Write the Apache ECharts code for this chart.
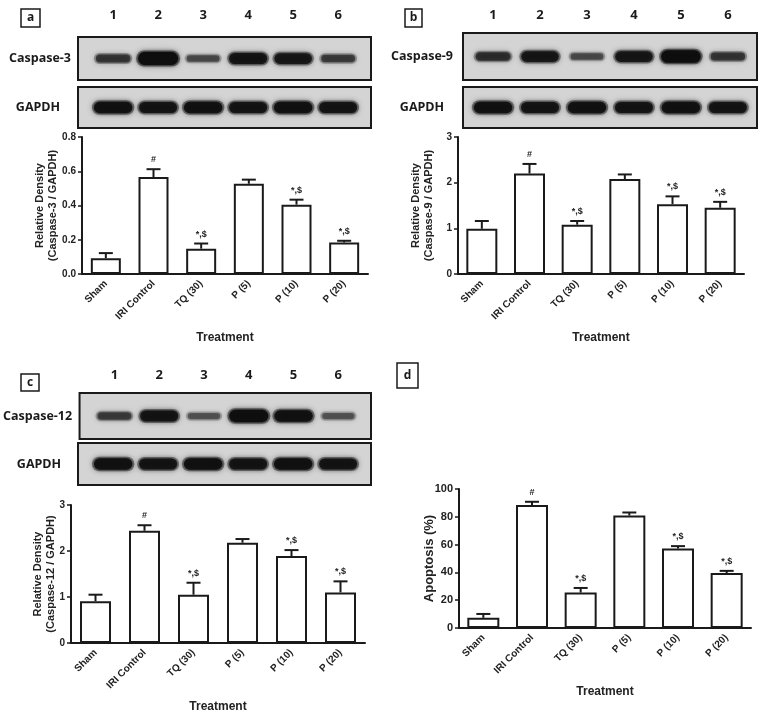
<!DOCTYPE html>
<html><head><meta charset="utf-8">
<script src="https://cdn.jsdelivr.net/npm/echarts@6/dist/echarts.min.js"></script>
<style>html,body{margin:0;padding:0;background:#fff}#c{width:759px;height:717px}</style>
</head><body><div id="c"></div>
<script>
// ---- data ----
const categories = ['Sham', 'IRI Control', 'TQ (30)', 'P (5)', 'P (10)', 'P (20)'];
const laneNames = ['1', '2', '3', '4', '5', '6'];
const sigLabels = ['', '#', '*,$', '', '*,$', '*,$'];

const caspase3Mean = [0.092, 0.566, 0.148, 0.527, 0.405, 0.184];
const caspase3Sem  = [0.030, 0.046, 0.030, 0.024, 0.029, 0.010];
const caspase9Mean = [0.99, 2.20, 1.08, 2.08, 1.53, 1.45];
const caspase9Sem  = [0.17, 0.21, 0.08, 0.10, 0.17, 0.13];
const caspase12Mean = [0.91, 2.44, 1.05, 2.18, 1.89, 1.10];
const caspase12Sem  = [0.14, 0.12, 0.26, 0.08, 0.13, 0.24];
const apoptosisMean = [7.3, 88.5, 25.5, 80.9, 57.2, 39.5];
const apoptosisSem  = [2.8, 2.3, 3.3, 2.2, 1.7, 1.6];

const yTicksA = [0, 0.8, 0.2];
const yTicksB = [0, 3, 1];
const yTicksC = [0, 3, 1];
const yTicksD = [0, 100, 20];

// blot band intensities (0..1), lanes 1..6
const bandCaspase3 = [0.45, 1.0, 0.3, 0.8, 0.75, 0.4];
const bandGapdhA   = [0.85, 0.8, 0.85, 0.8, 0.85, 0.8];
const bandCaspase9 = [0.5, 0.75, 0.3, 0.75, 0.95, 0.45];
const bandGapdhB   = [0.85, 0.8, 0.85, 0.8, 0.85, 0.8];
const bandCaspase12 = [0.4, 0.8, 0.25, 0.92, 0.85, 0.25];
const bandGapdhC   = [0.85, 0.8, 0.85, 0.8, 0.85, 0.8];

// ---- helpers ----
const AX = '"Liberation Sans", Arial, sans-serif';
const BL = '"Open Sans", "Liberation Sans", sans-serif';
const INK = '#1a1a1a';

function errRender(params, api) {
  const i = api.value(0), m = api.value(1), t = api.value(2);
  const p0 = api.coord([i, m]);
  const p1 = api.coord([i, t]);
  const cap = 7;
  const sig = sigLabels[params.dataIndex];
  return {
    type: 'group', children: [
      { type: 'line', shape: { x1: p0[0], y1: p0[1], x2: p1[0], y2: p1[1] }, style: { stroke: INK, lineWidth: 2 } },
      { type: 'line', shape: { x1: p1[0] - cap, y1: p1[1], x2: p1[0] + cap, y2: p1[1] }, style: { stroke: INK, lineWidth: 2 } },
      { type: 'text', x: p1[0], y: p1[1] - 5, style: { text: sig, align: 'center', verticalAlign: 'bottom', font: 'bold 9px ' + AX, fill: '#222' } }
    ]
  };
}

function bandRender(params, api) {
  const lane = api.value(0), k = api.value(2);
  const c = api.coord([lane, 0]);
  const w = 30 + 10 * k, h = 4 + 9 * k;
  const a = 0.3 + 0.7 * k;
  const col = 'rgba(14,14,14,' + a.toFixed(2) + ')';
  const halo = 'rgba(30,30,30,' + (a * 0.5).toFixed(2) + ')';
  return { type: 'group', children: [
    { type: 'rect', shape: { x: c[0] - w / 2 - 2, y: c[1] - h / 2 - 1.5, width: w + 4, height: h + 3, r: (h + 3) / 2 },
      style: { fill: halo, shadowBlur: 6, shadowColor: halo } },
    { type: 'rect', shape: { x: c[0] - w / 2, y: c[1] - h / 2, width: w, height: h, r: h / 2 },
      style: { fill: col, shadowBlur: 4, shadowColor: col } }
  ] };
}

function laneRender(params, api) {
  const lane = api.value(0);
  const c = api.coord([lane, 0]);
  const off = params.coordSys.y - (params.seriesName === 'lanesA' ? 22 : 18);
  return { type: 'text', x: c[0], y: off, style: { text: laneNames[params.dataIndex], align: 'center', verticalAlign: 'middle', font: 'bold 13px ' + BL, fill: INK } };
}

const barGrids = [
  { left: 82, top: 137, width: 286, height: 137 },
  { left: 458, top: 137, width: 286, height: 137 },
  { left: 71, top: 505, width: 294, height: 138 },
  { left: 459, top: 489, width: 292, height: 139 }
];
const blotGrids = [
  { left: 78, top: 37, width: 293, height: 43 },
  { left: 78, top: 87, width: 293, height: 41 },
  { left: 463, top: 33, width: 294, height: 47 },
  { left: 463, top: 87, width: 294, height: 41 },
  { left: 78, top: 393, width: 293, height: 46 },
  { left: 78, top: 443, width: 293, height: 42 }
];

const means = [caspase3Mean, caspase9Mean, caspase12Mean, apoptosisMean];
const sems = [caspase3Sem, caspase9Sem, caspase12Sem, apoptosisSem];
const yTicks = [yTicksA, yTicksB, yTicksC, yTicksD];
const yNames = ['Relative Density\n(Caspase-3 / GAPDH)', 'Relative Density\n(Caspase-9 / GAPDH)', 'Relative Density\n(Caspase-12 / GAPDH)', 'Apoptosis (%)'];
const barW = [30, 31, 31, 32];
const yNameGap = [23, 23, 14, 23];

const grid = [], xAxis = [], yAxis = [], series = [];

barGrids.forEach((g, i) => {
  grid.push(Object.assign({ containLabel: false }, g));
  const big = i === 3;
  xAxis.push({
    gridIndex: i, type: 'category', data: categories,
    name: 'Treatment', nameLocation: 'middle', nameGap: 58,
    nameTextStyle: { fontFamily: AX, fontWeight: 'bold', fontSize: 12, color: '#222' },
    axisLine: { lineStyle: { color: INK, width: 2 } },
    axisTick: { alignWithLabel: true, length: 4, lineStyle: { color: INK, width: 1.5 } },
    axisLabel: { rotate: 45, interval: 0, margin: 8, fontFamily: AX, fontWeight: 'bold', fontSize: 10, color: '#222' }
  });
  yAxis.push({
    gridIndex: i, type: 'value', min: yTicks[i][0], max: yTicks[i][1], interval: yTicks[i][2],
    name: yNames[i], nameLocation: 'middle', nameRotate: 90, nameGap: yNameGap[i], nameMoveOverlap: false,
    nameTextStyle: { fontFamily: AX, fontWeight: 'bold', fontSize: big ? 13 : 11, lineHeight: 13, color: '#222' },
    splitLine: { show: false },
    axisLine: { show: true, lineStyle: { color: INK, width: 2 } },
    axisTick: { show: true, length: 4, lineStyle: { color: INK, width: 1.5 } },
    axisLabel: { margin: 6, fontFamily: AX, fontWeight: 'bold', fontSize: big ? 11 : 10, color: '#222',
      formatter: i === 0 ? (v => v.toFixed(1)) : (v => String(v)) }
  });
  series.push({
    type: 'bar', xAxisIndex: i, yAxisIndex: i, data: means[i], barWidth: barW[i],
    itemStyle: { color: '#fff', borderColor: INK, borderWidth: 2 }, silent: true, animation: false
  });
  series.push({
    type: 'custom', xAxisIndex: i, yAxisIndex: i, renderItem: errRender, silent: true, animation: false, z: 5,
    data: means[i].map((m, k) => [k, m, m + sems[i][k]])
  });
});

const blotRows = [
  ['Caspase-3', bandCaspase3, 38, 'lanesA'],
  ['GAPDH', bandGapdhA, 40, null],
  ['Caspase-9', bandCaspase9, 41, 'lanesB'],
  ['GAPDH', bandGapdhB, 41, null],
  ['Caspase-12', bandCaspase12, 42, 'lanesC'],
  ['GAPDH', bandGapdhC, 39, null]
];
const laneRange = [[-0.78, 5.73], [-0.78, 5.73], [-0.64, 5.62], [-0.64, 5.62], [-0.78, 5.73], [-0.78, 5.73]];

blotGrids.forEach((g, j) => {
  const gi = 4 + j;
  grid.push(Object.assign({ show: true, backgroundColor: '#d4d4d4', borderColor: INK, borderWidth: 2 }, g));
  xAxis.push({ gridIndex: gi, type: 'value', min: laneRange[j][0], max: laneRange[j][1], show: false });
  yAxis.push({ gridIndex: gi, type: 'category', data: [blotRows[j][0]],
    axisLine: { show: false }, axisTick: { show: false }, splitLine: { show: false },
    axisLabel: { align: 'center', margin: blotRows[j][2], fontFamily: BL, fontWeight: 'bold', fontSize: 12.5, color: INK } });
  series.push({ type: 'custom', xAxisIndex: gi, yAxisIndex: gi, renderItem: bandRender, silent: true, animation: false,
    encode: { x: 0, y: 1 }, data: blotRows[j][1].map((k, l) => [l, 0, k]) });
  if (blotRows[j][3]) {
    series.push({ type: 'custom', name: blotRows[j][3], xAxisIndex: gi, yAxisIndex: gi, renderItem: laneRender,
      silent: true, animation: false, clip: false, encode: { x: 0, y: 1 }, data: laneNames.map((n, l) => [l, 0]) });
  }
});

function panelBox(letter, x, y, w, h) {
  return [
    { type: 'rect', shape: { x: x, y: y, width: w, height: h }, style: { fill: '#fff', stroke: INK, lineWidth: 1.5 } },
    { type: 'text', x: x + w / 2, y: y + h / 2, style: { text: letter, align: 'center', verticalAlign: 'middle', font: 'bold 12px ' + BL, fill: INK } }
  ];
}

const chart = echarts.init(document.getElementById('c'), null, { renderer: 'canvas' });
chart.setOption({
  backgroundColor: '#fff',
  animation: false,
  grid: grid, xAxis: xAxis, yAxis: yAxis, series: series,
  graphic: [].concat(
    panelBox('a', 21, 9, 19, 18),
    panelBox('b', 405, 9, 17, 18),
    panelBox('c', 21, 374, 18, 17),
    panelBox('d', 397, 363, 21, 25)
  )
});
</script></body></html>
